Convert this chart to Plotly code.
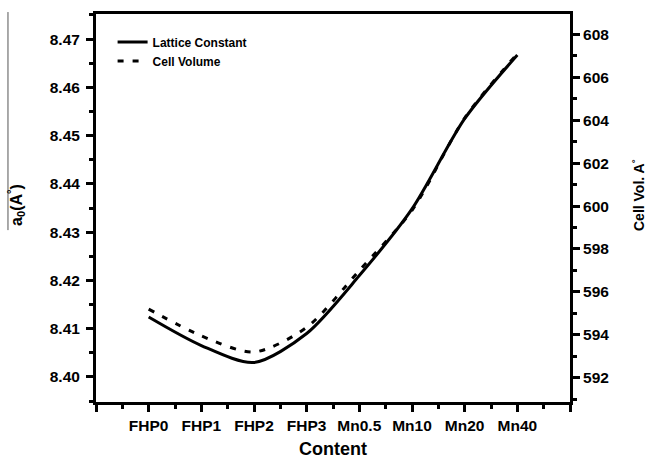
import plotly.graph_objects as go

categories = ["FHP0", "FHP1", "FHP2", "FHP3", "Mn0.5", "Mn10", "Mn20", "Mn40"]
lattice_constant = [8.4124, 8.4065, 8.4030, 8.4090, 8.4210, 8.4348, 8.4535, 8.4667]
cell_volume = [595.2, 593.95, 593.2, 594.35, 597.0, 599.8, 604.1, 607.1]
left_ticks = [8.40, 8.41, 8.42, 8.43, 8.44, 8.45, 8.46, 8.47]
right_ticks = [592, 594, 596, 598, 600, 602, 604, 606, 608]

xpos = list(range(len(categories)))
FONT = "Liberation Sans, Arial, sans-serif"

fig = go.Figure()
fig.add_trace(go.Scatter(
    x=xpos, y=lattice_constant, name="<b>Lattice Constant</b>", mode="lines",
    line=dict(color="black", width=3, shape="spline", smoothing=0.8),
))
fig.add_trace(go.Scatter(
    x=xpos, y=cell_volume, name="<b>Cell Volume</b>", mode="lines", yaxis="y2",
    line=dict(color="black", width=3, dash="6px,9px", shape="spline", smoothing=0.8),
))

tickfont = dict(family=FONT, size=15.5, color="black")
axis_common = dict(showgrid=False, zeroline=False, showline=True, linecolor="black",
                   linewidth=3, ticks="outside", tickwidth=3, ticklen=7,
                   tickcolor="black", tickfont=tickfont, automargin=False)

xt = list(range(-1, len(categories) + 1))
xtext = [""] + ["<b>%s</b>" % c for c in categories] + [""]

fig.update_layout(
    width=647, height=459,
    margin=dict(l=96, r=77, t=14, b=57, autoexpand=False),
    paper_bgcolor="white", plot_bgcolor="white",
    showlegend=True,
    legend=dict(x=0.035, y=0.965, xanchor="left", yanchor="top",
                bgcolor="rgba(0,0,0,0)", font=dict(family=FONT, size=12, color="black"),
                tracegroupgap=0, itemwidth=30),
    xaxis=dict(**axis_common, range=[-1, len(categories)], tickvals=xt, ticktext=xtext,
               mirror=True,
               minor=dict(dtick=0.5, tick0=-1, ticks="outside", ticklen=4, tickwidth=3,
                          tickcolor="black"),
               title=dict(text="<b>Content</b>", font=dict(family=FONT, size=18, color="black"),
                          standoff=10)),
    yaxis=dict(**axis_common, range=[8.3948, 8.4752], tickvals=left_ticks,
               ticktext=["<b>%.2f</b>" % v for v in left_ticks], mirror=True,
               ticklabelstandoff=3,
               minor=dict(dtick=0.005, tick0=8.40, ticks="outside", ticklen=4, tickwidth=3,
                          tickcolor="black")),
    yaxis2=dict(**axis_common, overlaying="y", side="right", range=[590.87, 608.95],
                tickvals=right_ticks, ticktext=["<b>%d</b>" % v for v in right_ticks],
                minor=dict(dtick=1, tick0=592, ticks="outside", ticklen=4, tickwidth=3,
                           tickcolor="black")),
    annotations=[
        dict(text="<b>a<sub>0</sub>(A<sup>°</sup>)</b>", xref="paper", yref="paper",
             x=-0.1688, y=0.5077, textangle=-90, showarrow=False,
             xanchor="center", yanchor="middle", font=dict(family=FONT, size=16, color="black")),
        dict(text="<b>Cell Vol. A<sup>°</sup></b>", xref="paper", yref="paper",
             x=1.1435, y=0.5335, textangle=-90, showarrow=False,
             xanchor="center", yanchor="middle", font=dict(family=FONT, size=14, color="black")),
    ],
    shapes=[dict(type="line", xref="paper", yref="paper", x0=-0.1857, x1=-0.1857,
                 y0=0.443, y1=1.005, line=dict(color="#555555", width=1))],
)

fig.write_html("out.html", config={"displayModeBar": False},
               post_script="document.body.style.margin='0';document.body.style.overflow='hidden';")
